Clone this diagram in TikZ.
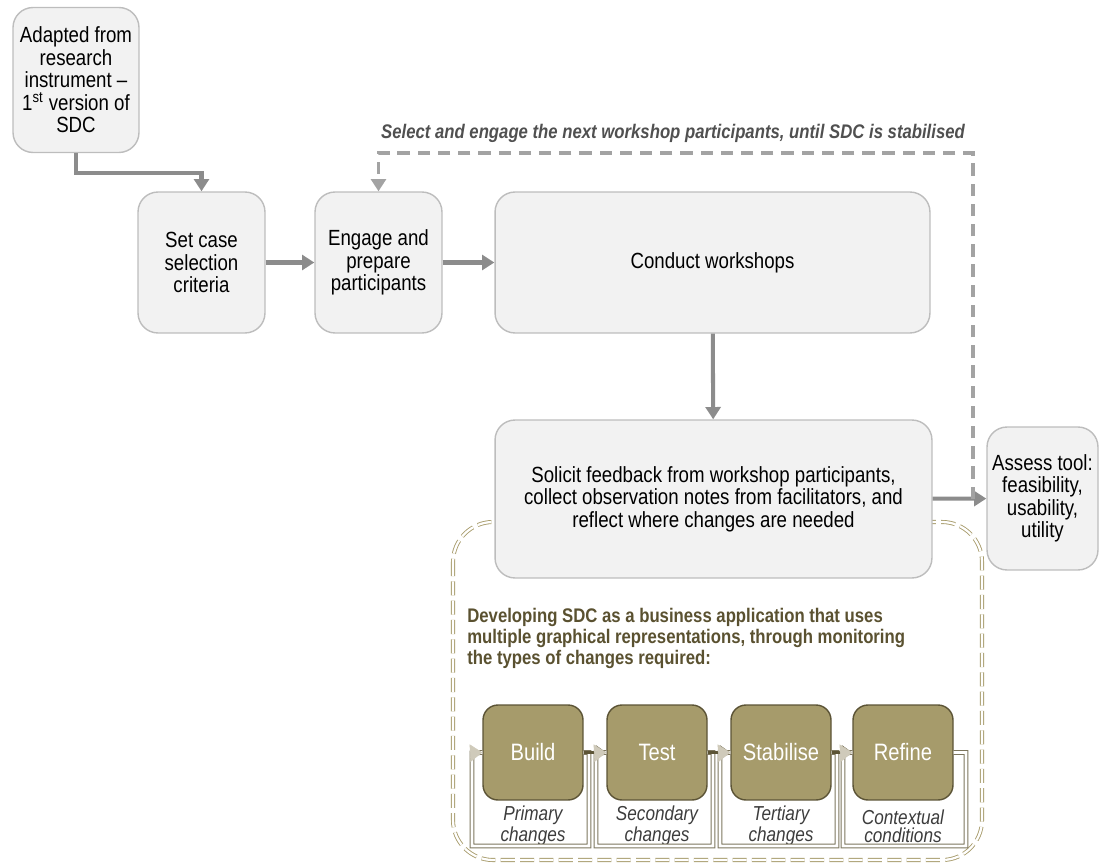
\documentclass[tikz,border=0pt]{standalone}
\usepackage{fontspec}
\setmainfont{Liberation Sans}[FakeStretch=0.85]
\usetikzlibrary{arrows.meta}
\definecolor{boxgray}{HTML}{F2F2F2}
\definecolor{linegray}{HTML}{BDBDBD}
\definecolor{arrgray}{HTML}{8C8C8C}
\definecolor{dashgray}{HTML}{A3A3A3}
\definecolor{olivefill}{HTML}{A69B6B}
\definecolor{olivedark}{HTML}{5C5436}
\definecolor{olivetext}{HTML}{5A5130}
\definecolor{goldline}{HTML}{A89C6C}
\definecolor{paletip}{HTML}{CFCABA}
\definecolor{labgray}{HTML}{3C3C3C}

\begin{document}
\begin{tikzpicture}[x=0.02cm,y=-0.02cm,
  gbox/.style = {draw=linegray, fill=boxgray, line width=0.8pt, rounded corners=0.4cm, align=center, inner sep=1pt, font=\fontsize{12.5}{12.8}\selectfont},
  obox/.style = {draw=olivedark, fill=olivefill, line width=0.8pt, rounded corners=0.3cm, minimum width=2cm, minimum height=1.9cm, text=white, font=\fontsize{13.5}{15}\selectfont},
  lbl/.style = {align=center, text=labgray, inner sep=0pt, font=\itshape\fontsize{11.5}{10.5}\selectfont},
  arr/.style = {draw=arrgray, line width=2.3pt, -{Triangle[length=7pt,width=8.5pt]}},
  dsh/.style = {draw=dashgray, line width=2.2pt, dash pattern=on 7pt off 4.5pt, -{Triangle[length=7pt,width=8.5pt]}},
  goldbox/.style = {draw=goldline, line width=0.5pt, double=white, double distance=1.3pt, dash pattern=on 8pt off 3pt, rounded corners=0.8cm},
  loopline/.style = {draw=olivedark!80, line width=0.6pt, double=white, double distance=1.5pt},
  looptip/.style = {draw=paletip, line width=0.3pt, -{Triangle[length=7pt,width=10pt,fill=paletip]}},
  oarr/.style = {draw=olivedark, line width=2.2pt, -{Triangle[length=6pt,width=8pt]}}]
\useasboundingbox (0,0) rectangle (1105,868);
\draw[goldbox] (453,522) rectangle (982,860);
\node (adapt) [gbox, minimum width=2.52cm, minimum height=2.9cm] at (76,80) {Adapted from\\research\\instrument --\\1\textsuperscript{st} version of\\SDC};
\node (setc) [gbox, minimum width=2.54cm, minimum height=2.82cm] at (201.5,262.5) {Set case\\selection\\criteria};
\node (eng) [gbox, minimum width=2.54cm, minimum height=2.82cm] at (378.5,262.5) {Engage and\\prepare\\participants};
\node (cond) [gbox, minimum width=8.7cm, minimum height=2.82cm] at (712.5,262.5) {Conduct workshops};
\node (sol) [gbox, minimum width=8.74cm, minimum height=3.16cm] at (713.5,499) {Solicit feedback from workshop participants,\\collect observation notes from facilitators, and\\reflect where changes are needed};
\node (assess) [gbox, minimum width=2.22cm, minimum height=2.86cm] at (1042.5,498.5) {Assess tool:\\feasibility,\\usability,\\utility};
\node (sel) [text=labgray!90, font=\bfseries\itshape\fontsize{11.2}{12}\selectfont] at (673,133) {Select and engage the next workshop participants, until SDC is stabilised};
\node (dev) [anchor=north west, align=left, text=olivetext, font=\bfseries\fontsize{11.2}{12}\selectfont, inner sep=0pt] at (467,608) {Developing SDC as a business application that uses\\multiple graphical representations, through monitoring\\the types of changes required:};
\node (build) [obox] at (533,752.5) {Build};
\node (test) [obox] at (657,752.5) {Test};
\node (stab) [obox] at (781,752.5) {Stabilise};
\node (refine) [obox] at (903,752.5) {Refine};
\node (l1) [lbl] at (533,826) {Primary\\changes};
\node (l2) [lbl] at (657,826) {Secondary\\changes};
\node (l3) [lbl] at (781,826) {Tertiary\\changes};
\node (l4) [lbl] at (903,826) {Contextual\\conditions};
\coordinate (fb) at (973,499);
\coordinate (top) at (973,153);
% loops under each stage
\foreach \b/\l/\r in {build/472/589, test/596/713, stab/720/837, refine/843/966}
\draw[loopline] (\b.east) -| (\r,846) -| (\l,753) -- (\b.west);
\foreach \from/\to in {build/test, test/stab, stab/refine}
\draw[oarr] (\from) -- (\to);
\foreach \b/\l in {build/472, test/596, stab/720, refine/843}
\draw[looptip] (\l,753) -- (\b.west);
\draw[arr] (adapt.south) -- ++(0,20) -| (setc.north);
\foreach \from/\to in {setc/eng, eng/cond, cond/sol, sol/assess}
\draw[arr] (\from) -- (\to);
\draw[dsh] (fb) -- (top) -| (eng.north);
\end{tikzpicture}
\end{document}
